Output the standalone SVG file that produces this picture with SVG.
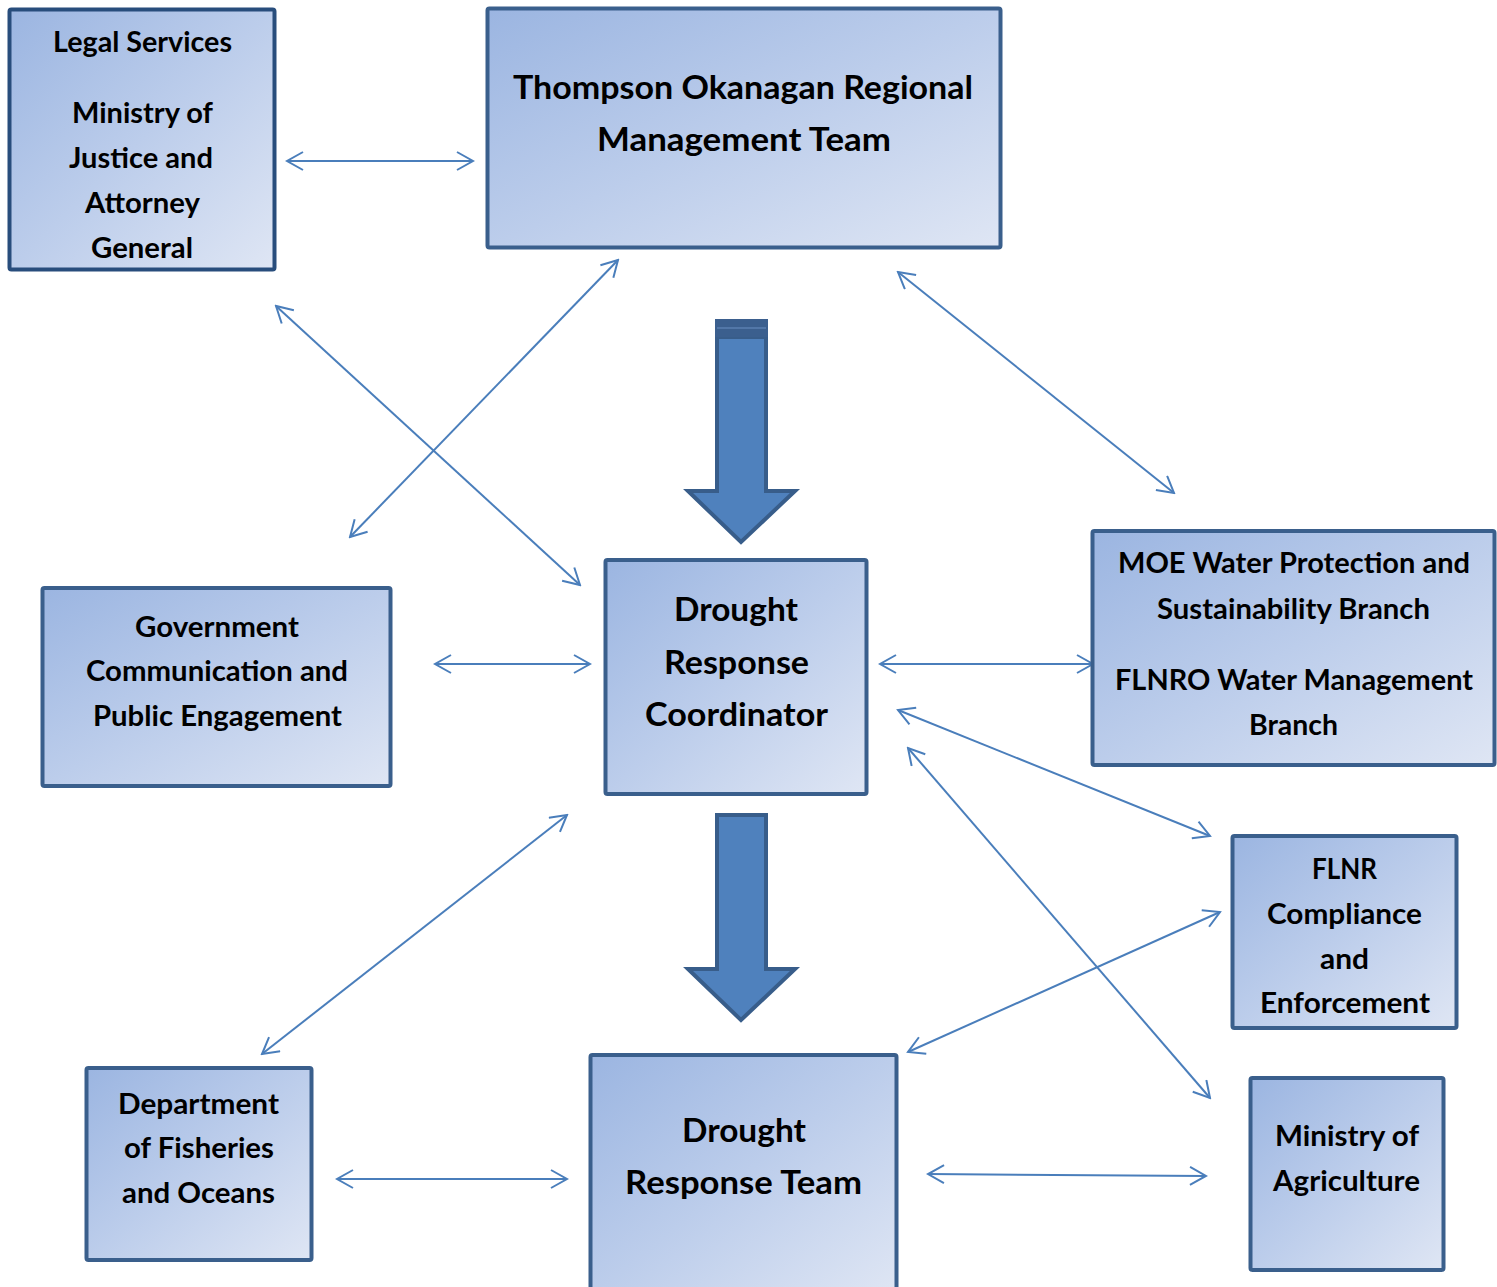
<svg xmlns="http://www.w3.org/2000/svg" width="1497" height="1287" viewBox="0 0 1497 1287">
<defs>
<linearGradient id="g" x1="0" y1="0" x2="1" y2="1">
<stop offset="0" stop-color="#9bb5e1"/>
<stop offset="0.5" stop-color="#bccdeb"/>
<stop offset="1" stop-color="#dfe6f4"/>
</linearGradient>
<marker id="ah" viewBox="0 0 20 20" refX="18" refY="10" markerWidth="20" markerHeight="20" markerUnits="userSpaceOnUse" orient="auto-start-reverse">
<path d="M2,1 L18,10 L2,19" fill="none" stroke="#4a7ebb" stroke-width="2"/>
</marker>
</defs>
<style>
.box{fill:url(#g);stroke:#3a5f8c;stroke-width:4}
.t{font-family:Lato,"Liberation Sans",sans-serif;font-weight:700;fill:#000;text-anchor:middle}
.s{font-size:28px}
.l{font-size:32.5px}
.c line{stroke:#4a7ebb;stroke-width:2;marker-start:url(#ah);marker-end:url(#ah)}
.big{fill:#4f81bd;stroke:#385d8a;stroke-width:4;stroke-linejoin:miter}
</style>
<rect width="1497" height="1287" fill="#fff"/>

<g id="connectors" class="c">
<line x1="287" y1="161" x2="473" y2="161"/>
<line x1="276" y1="306" x2="580" y2="585"/>
<line x1="618" y1="260" x2="350" y2="537"/>
<line x1="898" y1="272" x2="1174" y2="493"/>
<line x1="435" y1="664" x2="590" y2="664"/>
<line x1="880" y1="664" x2="1093" y2="664"/>
<line x1="898" y1="710" x2="1210" y2="836"/>
<line x1="908" y1="748" x2="1210" y2="1098"/>
<line x1="567" y1="815" x2="262" y2="1054"/>
<line x1="1220" y1="912" x2="908" y2="1052"/>
<line x1="337" y1="1179" x2="567" y2="1179"/>
<line x1="928" y1="1174" x2="1206" y2="1176"/>
</g>

<g id="arrow-top">
<path class="big" d="M717,337 L766,337 L766,491 L795,491 L741,542 L688,491 L717,491 Z"/>
<rect x="715" y="319" width="53" height="18" fill="#3b5f8e"/>
<line x1="717" y1="328" x2="766" y2="328" stroke="#5b7fb0" stroke-width="1.5"/>
</g>
<g id="arrow-bottom">
<path class="big" d="M717,815 L766,815 L766,969 L795,969 L741,1020 L688,969 L717,969 Z"/>
</g>

<g id="legal">
<rect class="box" x="9.5" y="9.5" width="265" height="260" rx="2" style="stroke:#284d7c"/>
<text class="t s" x="142.5" y="52" textLength="179" lengthAdjust="spacingAndGlyphs">Legal Services</text>
<text class="t s" x="142.5" y="123" textLength="141" lengthAdjust="spacingAndGlyphs">Ministry of</text>
<text class="t s" x="141" y="168" textLength="144" lengthAdjust="spacingAndGlyphs">Justice and</text>
<text class="t s" x="142.5" y="213" textLength="115" lengthAdjust="spacingAndGlyphs">Attorney</text>
<text class="t s" x="142" y="258" textLength="102" lengthAdjust="spacingAndGlyphs">General</text>
</g>

<g id="thompson">
<rect class="box" x="487.5" y="8.5" width="513" height="239" rx="2"/>
<text class="t l" x="743" y="99" textLength="460" lengthAdjust="spacingAndGlyphs">Thompson Okanagan Regional</text>
<text class="t l" x="744" y="151" textLength="294" lengthAdjust="spacingAndGlyphs">Management Team</text>
</g>

<g id="coordinator">
<rect class="box" x="605.5" y="560" width="261" height="234" rx="2"/>
<text class="t l" x="736" y="621" textLength="124" lengthAdjust="spacingAndGlyphs">Drought</text>
<text class="t l" x="736.5" y="674" textLength="145" lengthAdjust="spacingAndGlyphs">Response</text>
<text class="t l" x="736.5" y="726" textLength="183" lengthAdjust="spacingAndGlyphs">Coordinator</text>
</g>

<g id="government">
<rect class="box" x="42.5" y="588" width="348" height="198" rx="2"/>
<text class="t s" x="217" y="637" textLength="164" lengthAdjust="spacingAndGlyphs">Government</text>
<text class="t s" x="217" y="681" textLength="262" lengthAdjust="spacingAndGlyphs">Communication and</text>
<text class="t s" x="217.5" y="726" textLength="249" lengthAdjust="spacingAndGlyphs">Public Engagement</text>
</g>

<g id="moe">
<rect class="box" x="1092.5" y="531" width="402" height="234" rx="2"/>
<text class="t s" x="1294" y="573" textLength="352" lengthAdjust="spacingAndGlyphs">MOE Water Protection and</text>
<text class="t s" x="1293.5" y="619" textLength="273" lengthAdjust="spacingAndGlyphs">Sustainability Branch</text>
<text class="t s" x="1294" y="690" textLength="358" lengthAdjust="spacingAndGlyphs">FLNRO Water Management</text>
<text class="t s" x="1293.5" y="735" textLength="89" lengthAdjust="spacingAndGlyphs">Branch</text>
</g>

<g id="flnr">
<rect class="box" x="1232.5" y="836" width="224" height="192" rx="2"/>
<text class="t s" x="1344.5" y="879" textLength="65" lengthAdjust="spacingAndGlyphs">FLNR</text>
<text class="t s" x="1344.5" y="924" textLength="155" lengthAdjust="spacingAndGlyphs">Compliance</text>
<text class="t s" x="1344.5" y="969" textLength="49" lengthAdjust="spacingAndGlyphs">and</text>
<text class="t s" x="1345" y="1013" textLength="170" lengthAdjust="spacingAndGlyphs">Enforcement</text>
</g>

<g id="agriculture">
<rect class="box" x="1250.5" y="1078" width="193" height="192" rx="2"/>
<text class="t s" x="1347" y="1146" textLength="144" lengthAdjust="spacingAndGlyphs">Ministry of</text>
<text class="t s" x="1346.5" y="1191" textLength="147" lengthAdjust="spacingAndGlyphs">Agriculture</text>
</g>

<g id="dfo">
<rect class="box" x="86.5" y="1068" width="225" height="192" rx="2"/>
<text class="t s" x="198.5" y="1114" textLength="161" lengthAdjust="spacingAndGlyphs">Department</text>
<text class="t s" x="199" y="1158" textLength="150" lengthAdjust="spacingAndGlyphs">of Fisheries</text>
<text class="t s" x="198.5" y="1203" textLength="153" lengthAdjust="spacingAndGlyphs">and Oceans</text>
</g>

<g id="drt">
<rect class="box" x="590.5" y="1055" width="306" height="240" rx="2"/>
<text class="t l" x="744" y="1142" textLength="124" lengthAdjust="spacingAndGlyphs">Drought</text>
<text class="t l" x="743.5" y="1194" textLength="237" lengthAdjust="spacingAndGlyphs">Response Team</text>
</g>
</svg>
